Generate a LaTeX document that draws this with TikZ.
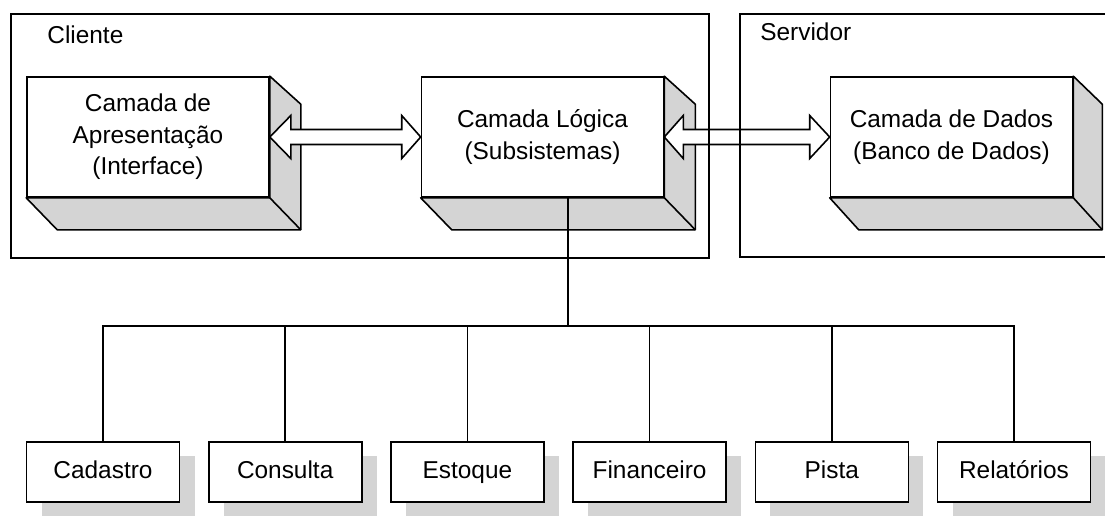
\documentclass[tikz,border=0pt]{standalone}
\usepackage{fontspec}
\setmainfont{Liberation Sans}
\usetikzlibrary{shadows}
\tikzstyle{camada} = [rectangle, draw=black, fill=white, line width=0.8pt, minimum width=121pt, minimum height=60pt, align=center, font=\fontsize{12.2}{15.8}\selectfont]
\tikzstyle{profundidade} = [draw=black, fill=black!17, line width=0.8pt, line join=round]
\tikzstyle{modulo} = [rectangle, draw=black, fill=white, line width=0.8pt, minimum width=76.5pt, minimum height=30pt, text height=8.8pt, text depth=2.6pt, font=\fontsize{12.2}{15}\selectfont, drop shadow={shadow xshift=7.5pt, shadow yshift=-7pt, fill=black!17, opacity=1}]
\tikzstyle{titulo} = [anchor=base west, inner sep=0pt, font=\fontsize{12.2}{15}\selectfont]
\tikzstyle{seta} = [draw=black, fill=white, line width=0.8pt, line join=miter]
\tikzstyle{moldura} = [line width=0.8pt]

\begin{document}
\begin{tikzpicture}[x=0.5pt, y=-0.5pt]
        \useasboundingbox (0,0) rectangle (1105,516);

        % camadas
        \node(apres) [camada] at (148,137) {Camada de\\Apresentação\\(Interface)};
        \node(logica) [camada, right of=apres, node distance=197.25pt] {Camada Lógica\\(Subsistemas)};
        \node(dados) [camada, right of=logica, node distance=204.5pt] {Camada de Dados\\(Banco de Dados)};

        \draw[profundidade] (apres.north east) -- ++(31,28) -- ([shift={(31,32)}]apres.south east) -- ([shift={(31,32)}]apres.south west) -- (apres.south west) -- (apres.south east) -- cycle;
        \draw[profundidade] (apres.south east) -- ++(31,32);
        \draw[profundidade] (logica.north east) -- ++(31,28) -- ([shift={(31,32)}]logica.south east) -- ([shift={(31,32)}]logica.south west) -- (logica.south west) -- (logica.south east) -- cycle;
        \draw[profundidade] (logica.south east) -- ++(31,32);
        \draw[profundidade] (dados.north east) -- ++(29,28) -- ([shift={(29,32)}]dados.south east) -- ([shift={(29,32)}]dados.south west) -- (dados.south west) -- (dados.south east) -- cycle;
        \draw[profundidade] (dados.south east) -- ++(29,32);

        % setas
        \draw[seta] (apres.east) -- ++(21,-21.5) -- ++(0,14) -- ([shift={(-19,-7.5)}]logica.west) -- ++(0,-14) -- (logica.west) -- ++(-19,21.5) -- ++(0,-14) -- ([shift={(21,7.5)}]apres.east) -- ++(0,14) -- cycle;
        \draw[seta] (logica.east) -- ++(19,-21.5) -- ++(0,14) -- ([shift={(-20,-7.5)}]dados.west) -- ++(0,-14) -- (dados.west) -- ++(-20,21.5) -- ++(0,-14) -- ([shift={(19,7.5)}]logica.east) -- ++(0,14) -- cycle;

        % molduras
        \draw[moldura] (11,14) rectangle (709,258);
        \draw[moldura] (1105,14) -- (740,14) -- (740,257) -- (1105,257);
        \node(cliente) [titulo] at (47,43) {Cliente};
        \node(servidor) [titulo] at (760,40) {Servidor};

        % subsistemas
        \node(cadastro) [modulo] at (103,472) {Cadastro};
        \node(consulta) [modulo, right of=cadastro, node distance=91.1pt] {Consulta};
        \node(estoque) [modulo, right of=consulta, node distance=91.1pt] {Estoque};
        \node(financeiro) [modulo, right of=estoque, node distance=91.1pt] {Financeiro};
        \node(pista) [modulo, right of=financeiro, node distance=91.1pt] {Pista};
        \node(relatorios) [modulo, right of=pista, node distance=91.1pt] {Relatórios};

        \coordinate(tronco) at ([xshift=12.75pt]logica.south);
        \coordinate(barra) at (568,326);

        \draw[moldura] (tronco) -- (barra);
        \draw[moldura] (cadastro.north) -- (cadastro.north |- barra) -- (relatorios.north |- barra) -- (relatorios.north);
        \draw[moldura] (consulta.north) -- (consulta.north |- barra);
        \draw[moldura] (estoque.north) -- (estoque.north |- barra);
        \draw[moldura] (financeiro.north) -- (financeiro.north |- barra);
        \draw[moldura] (pista.north) -- (pista.north |- barra);
\end{tikzpicture}
\end{document}
